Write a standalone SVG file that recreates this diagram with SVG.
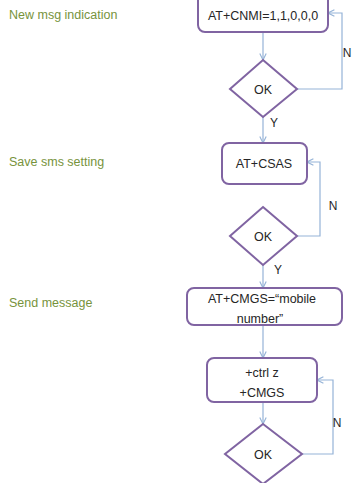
<svg xmlns="http://www.w3.org/2000/svg" width="353" height="483" viewBox="0 0 353 483">
  <style>
    .bg { fill: #ffffff; }
    .box { fill: #ffffff; stroke: #8064A2; stroke-width: 2; }
    .txt { font-family: "Liberation Sans", Arial, sans-serif; font-size: 12.5px; fill: #262626; text-anchor: middle; }
    .lbl { font-family: "Liberation Sans", Arial, sans-serif; font-size: 12.5px; fill: #77933C; }
    .yn { font-family: "Liberation Sans", Arial, sans-serif; font-size: 12px; fill: #262626; text-anchor: middle; }
    .conn { fill: none; stroke: #95B3D7; stroke-width: 1.2; marker-end: url(#arrow); }
  </style>
  <defs>
    <marker id="arrow" viewBox="0 0 10 10" refX="9" refY="5" markerWidth="8" markerHeight="8" markerUnits="userSpaceOnUse" orient="auto">
      <path d="M1,1 L9,5 L1,9" fill="none" stroke="#95B3D7" stroke-width="1.4"/>
    </marker>
  </defs>
  <rect class="bg" x="0" y="0" width="353" height="483"/>

  <!-- step labels -->
  <text class="lbl" x="9" y="19">New msg indication</text>
  <text class="lbl" x="9" y="166">Save sms setting</text>
  <text class="lbl" x="9" y="307">Send message</text>

  <!-- connectors -->
  <g id="connectors">
    <path class="conn" d="M263,32 V60"/>
    <path class="conn" d="M263,117 V143"/>
    <path class="conn" d="M263,265 V288"/>
    <path class="conn" d="M263,325 V358"/>
    <path class="conn" d="M263,402 V424"/>
    <path class="conn" d="M297,89 H342 V13 H328"/>
    <path class="conn" d="M297,236 H320 V162 H307"/>
    <path class="conn" d="M302,454 H333 V380 H317"/>
    <text class="yn" x="274" y="127">Y</text>
    <text class="yn" x="278" y="274">Y</text>
    <text class="yn" x="347" y="57">N</text>
    <text class="yn" x="333" y="210">N</text>
    <text class="yn" x="337" y="427">N</text>
  </g>

  <g id="cnmi">
    <rect class="box" x="198" y="-10" width="130" height="42" rx="7"/>
    <text class="txt" x="263" y="19.5">AT+CNMI=1,1,0,0,0</text>
  </g>
  <g id="ok1">
    <polygon class="box" points="263,60 297,89 263,117 230,89"/>
    <text class="txt" x="263" y="93.5">OK</text>
  </g>
  <g id="csas">
    <rect class="box" x="222" y="143" width="85" height="41" rx="7"/>
    <text class="txt" x="264" y="167.5">AT+CSAS</text>
  </g>
  <g id="ok2">
    <polygon class="box" points="263,207 297,236 263,265 230,236"/>
    <text class="txt" x="263" y="240.5">OK</text>
  </g>
  <g id="cmgs">
    <rect class="box" x="187" y="288" width="155" height="37" rx="7"/>
    <text class="txt" x="262" y="302.5">AT+CMGS=“mobile</text>
    <text class="txt" x="260" y="323">number”</text>
  </g>
  <g id="ctrlz">
    <rect class="box" x="207" y="358" width="110" height="44" rx="7"/>
    <text class="txt" x="262" y="376.5">+ctrl z</text>
    <text class="txt" x="262" y="396.5">+CMGS</text>
  </g>
  <g id="ok3">
    <polygon class="box" points="263,424 302,454 263,484 225,454"/>
    <text class="txt" x="263" y="458.5">OK</text>
  </g>
</svg>
